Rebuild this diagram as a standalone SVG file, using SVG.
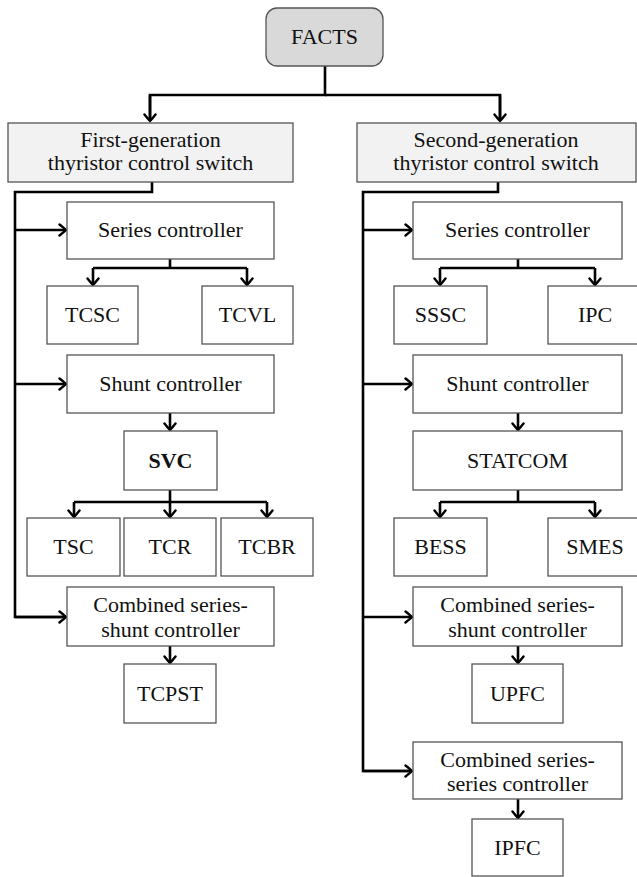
<svg xmlns="http://www.w3.org/2000/svg" width="637" height="877" viewBox="0 0 637 877" font-family="'Liberation Serif', serif">
<style>
.box{fill:#fff;stroke:#555;stroke-width:1.3}
.gen{fill:#f2f2f2;stroke:#555;stroke-width:1.3}
.root{fill:#d9d9d9;stroke:#555;stroke-width:1.3}
text{font-family:'Liberation Serif',serif;font-size:22px;fill:#111;text-anchor:middle}
.b{font-weight:bold}
.c{fill:none;stroke:#000;stroke-width:2.6}
.a{marker-end:url(#ah)}
</style>
<defs>
<marker id="ah" markerUnits="userSpaceOnUse" viewBox="-10 -7 12 14" refX="0" refY="0" markerWidth="12" markerHeight="14" orient="auto">
<path d="M-6.5,-5.5 Q-1.5,-1.5 0,0 Q-1.5,1.5 -6.5,5.5" fill="none" stroke="#000" stroke-width="2.4" stroke-linecap="round"/>
</marker>
</defs>
<g id="connectors">
<path class="c" d="M325,66 V95 H150 V121"/>
<path class="c a" d="M150,95 V121"/>
<path class="c" d="M325,95 H500 V121"/>
<path class="c a" d="M500,95 V121"/>
<path class="c" d="M152,182 V192 H15 V617 H66"/>
<path class="c a" d="M15,617 H66"/>
<path class="c a" d="M15,230 H66"/>
<path class="c a" d="M15,384 H66"/>
<path class="c" d="M170,259 V268 M93,268 H247"/>
<path class="c a" d="M93,268 V285"/>
<path class="c a" d="M247,268 V285"/>
<path class="c a" d="M170,413 V430"/>
<path class="c" d="M170,490 V502 M74,502 H267"/>
<path class="c a" d="M74,502 V517"/>
<path class="c a" d="M170,502 V517"/>
<path class="c a" d="M267,502 V517"/>
<path class="c a" d="M170,646 V663"/>
<path class="c" d="M498,182 V192 H363 V771 H412"/>
<path class="c a" d="M363,771 H412"/>
<path class="c a" d="M363,230 H412"/>
<path class="c a" d="M363,384 H412"/>
<path class="c a" d="M363,617 H412"/>
<path class="c" d="M518,259 V268 M440,268 H595"/>
<path class="c a" d="M440,268 V285"/>
<path class="c a" d="M595,268 V285"/>
<path class="c a" d="M518,413 V430"/>
<path class="c" d="M518,490 V502 M440,502 H595"/>
<path class="c a" d="M440,502 V517"/>
<path class="c a" d="M595,502 V517"/>
<path class="c a" d="M518,646 V663"/>
<path class="c a" d="M518,799 V818"/>
</g>
<g id="facts"><rect class="root" x="266" y="8" width="117" height="58" rx="11"/><text x="324.5" y="44">FACTS</text></g>
<g id="gen1"><rect class="gen" x="8" y="123" width="285" height="59"/><text x="150.5" y="147">First-generation</text><text x="150.5" y="170">thyristor control switch</text></g>
<g id="gen2"><rect class="gen" x="357" y="123" width="279" height="59"/><text x="496" y="147">Second-generation</text><text x="496" y="170">thyristor control switch</text></g>
<g id="series1"><rect class="box" x="67" y="202" width="207" height="57"/><text x="170.5" y="237">Series controller</text></g>
<g id="tcsc"><rect class="box" x="47" y="286" width="91" height="58"/><text x="92.5" y="322">TCSC</text></g>
<g id="tcvl"><rect class="box" x="202" y="286" width="91" height="58"/><text x="247.5" y="322">TCVL</text></g>
<g id="shunt1"><rect class="box" x="67" y="355" width="207" height="58"/><text x="170.5" y="391">Shunt controller</text></g>
<g id="svc"><rect class="box" x="124" y="431" width="93" height="59"/><text class="b" x="170.5" y="468">SVC</text></g>
<g id="tsc"><rect class="box" x="27" y="518" width="93" height="58"/><text x="73.5" y="554">TSC</text></g>
<g id="tcr"><rect class="box" x="124" y="518" width="92" height="58"/><text x="170" y="554">TCR</text></g>
<g id="tcbr"><rect class="box" x="221" y="518" width="92" height="58"/><text x="267" y="554">TCBR</text></g>
<g id="combo1"><rect class="box" x="67" y="587" width="207" height="59"/><text x="170.5" y="612">Combined series-</text><text x="170.5" y="637">shunt controller</text></g>
<g id="tcpst"><rect class="box" x="124" y="664" width="92" height="59"/><text x="170" y="701">TCPST</text></g>
<g id="series2"><rect class="box" x="413" y="202" width="209" height="57"/><text x="517.5" y="237">Series controller</text></g>
<g id="sssc"><rect class="box" x="394" y="286" width="93" height="58"/><text x="440.5" y="322">SSSC</text></g>
<g id="ipc"><rect class="box" x="548" y="286" width="94" height="58"/><text x="595" y="322">IPC</text></g>
<g id="shunt2"><rect class="box" x="413" y="355" width="209" height="58"/><text x="517.5" y="391">Shunt controller</text></g>
<g id="statcom"><rect class="box" x="413" y="431" width="209" height="59"/><text x="517.5" y="468">STATCOM</text></g>
<g id="bess"><rect class="box" x="394" y="518" width="93" height="58"/><text x="440.5" y="554">BESS</text></g>
<g id="smes"><rect class="box" x="548" y="518" width="94" height="58"/><text x="595" y="554">SMES</text></g>
<g id="combo2"><rect class="box" x="413" y="587" width="209" height="59"/><text x="517.5" y="612">Combined series-</text><text x="517.5" y="637">shunt controller</text></g>
<g id="upfc"><rect class="box" x="472" y="664" width="91" height="59"/><text x="517.5" y="701">UPFC</text></g>
<g id="combo3"><rect class="box" x="413" y="742" width="209" height="57"/><text x="517.5" y="767">Combined series-</text><text x="517.5" y="791">series controller</text></g>
<g id="ipfc"><rect class="box" x="472" y="819" width="91" height="57"/><text x="517.5" y="855">IPFC</text></g>
</svg>
